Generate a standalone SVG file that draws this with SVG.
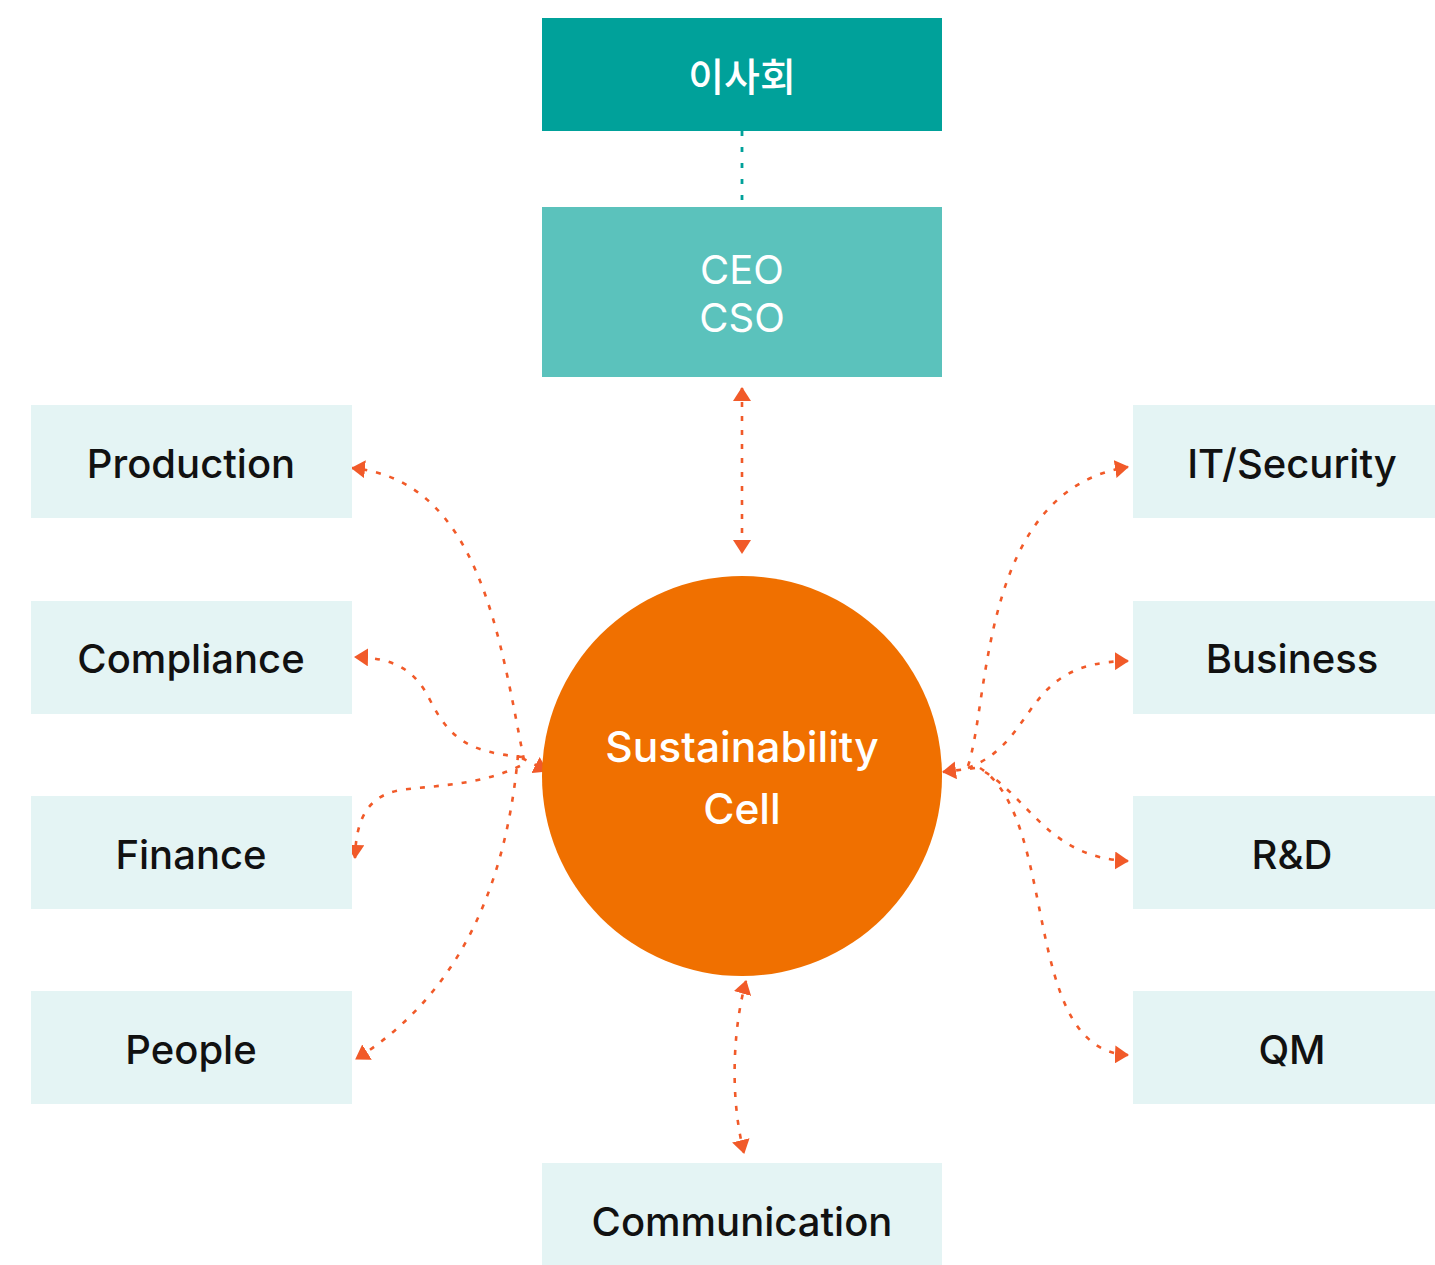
<svg xmlns="http://www.w3.org/2000/svg" width="1435" height="1265" viewBox="0 0 1435 1265">
<style>
.dept{fill:#E4F4F4}
.lbl{font-family:Inter,"Noto Sans",sans-serif;font-size:40px;font-weight:500;fill:#111;text-anchor:middle;dominant-baseline:central}
.wt{font-family:Inter,"Noto Sans",sans-serif;fill:#fff;text-anchor:middle;dominant-baseline:central}
.ca{fill:none;stroke:#F15A29;stroke-width:2.6;stroke-dasharray:5 9;marker-end:url(#ah)}
.cb{fill:none;stroke:#F15A29;stroke-width:2.6;stroke-dasharray:5 9;marker-end:url(#ah);marker-start:url(#ah)}
</style>
<defs>
<marker id="ah" viewBox="0 0 14 18" refX="13" refY="9" markerWidth="14" markerHeight="18" markerUnits="userSpaceOnUse" orient="auto-start-reverse">
<path d="M0 0 L14 9 L0 18 Z" fill="#F15A29"/>
</marker>
</defs>
<g id="connectors">
<line x1="742" y1="131" x2="742" y2="207" stroke="#00A19A" stroke-width="2.8" stroke-dasharray="5 11"/>
<path class="cb" d="M742 388 L742 553"/>
<path class="cb" d="M746 981 C 735 1020, 728 1090, 744 1153"/>
<path class="ca" d="M524 760 C 500 640, 480 480, 352 468"/>
<path class="ca" d="M522 757 C 470 752, 450 740, 430 700 C 415 670, 395 658, 355 657"/>
<path class="ca" d="M520 766 C 480 785, 440 785, 400 790 C 370 796, 356 815, 355 858"/>
<path class="ca" d="M518 755 C 505 900, 450 1000, 356 1059"/>
<path class="ca" d="M522 758 L547 771"/>
<path class="ca" d="M968 766 C 990 700, 980 490, 1128 467"/>
<path class="ca" d="M968 768 C 1040 740, 1020 662, 1128 661"/>
<path class="ca" d="M985 772 C 1030 800, 1050 858, 1128 861"/>
<path class="ca" d="M980 768 C 1060 820, 1020 1050, 1128 1055"/>
<path class="ca" d="M975 768 L943 772"/>
</g>
<g id="board"><rect x="542" y="18" width="400" height="113" fill="#00A19A"/><text class="wt" x="742" y="74" font-size="39" font-weight="500" style="font-family:'Noto Sans CJK KR',sans-serif">이사회</text></g>
<g id="ceo"><rect x="542" y="207" width="400" height="170" fill="#5BC2BC"/><text class="wt" x="742" y="269" font-size="40">CEO</text><text class="wt" x="742" y="317" font-size="40">CSO</text></g>
<g id="cell"><circle cx="742" cy="776" r="200" fill="#F07000"/><text class="wt" x="742" y="746" font-size="42.5" font-weight="500">Sustainability</text><text class="wt" x="742" y="808" font-size="42.5" font-weight="500">Cell</text></g>
<g id="production"><rect class="dept" x="31" y="405" width="321" height="113"/><text class="lbl" x="191" y="463">Production</text></g>
<g id="compliance"><rect class="dept" x="31" y="601" width="321" height="113"/><text class="lbl" x="191" y="658">Compliance</text></g>
<g id="finance"><rect class="dept" x="31" y="796" width="321" height="113"/><text class="lbl" x="191" y="854">Finance</text></g>
<g id="people"><rect class="dept" x="31" y="991" width="321" height="113"/><text class="lbl" x="191" y="1049">People</text></g>
<g id="itsecurity"><rect class="dept" x="1133" y="405" width="302" height="113"/><text class="lbl" x="1292" y="463">IT/Security</text></g>
<g id="business"><rect class="dept" x="1133" y="601" width="302" height="113"/><text class="lbl" x="1292" y="658">Business</text></g>
<g id="rnd"><rect class="dept" x="1133" y="796" width="302" height="113"/><text class="lbl" x="1292" y="854">R&amp;D</text></g>
<g id="qm"><rect class="dept" x="1133" y="991" width="302" height="113"/><text class="lbl" x="1292" y="1049">QM</text></g>
<g id="communication"><rect class="dept" x="542" y="1163" width="400" height="102"/><text class="lbl" x="742" y="1221">Communication</text></g>
</svg>
